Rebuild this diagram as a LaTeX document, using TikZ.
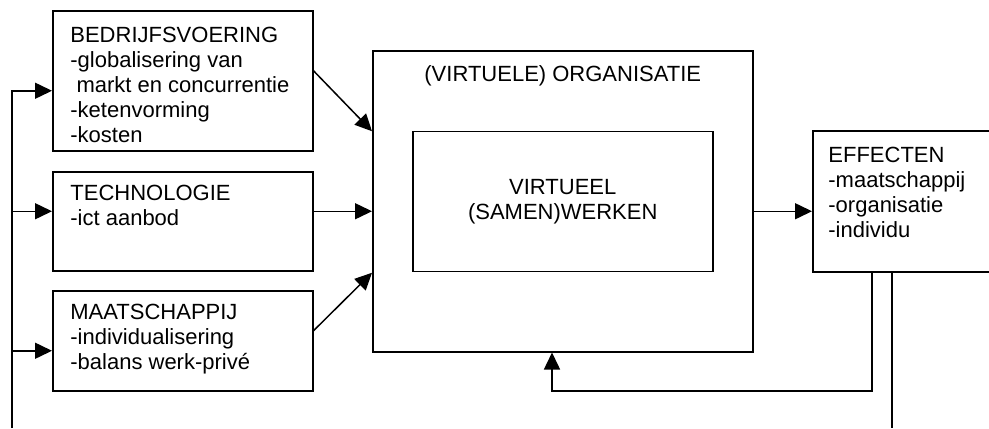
\documentclass[tikz,border=0pt]{standalone}
\usepackage{fontspec}
\setmainfont{Liberation Sans}
\usepackage{tikz}
\usetikzlibrary{positioning}
\usetikzlibrary{arrows.meta}
\tikzset{box/.style={draw,line width=0.75pt,anchor=north west,inner sep=0pt}}
\tikzset{boxtext/.style={anchor=north west,inner sep=0pt,align=left,font=\fontsize{11pt}{12.5pt}\selectfont}}
\tikzset{arr/.style={line width=0.75pt,-{Triangle[length=8.5pt,width=8pt]}}}
\tikzset{wire/.style={line width=0.75pt}}

\begin{document}
\begin{tikzpicture}[x=0.5pt,y=-0.5pt]
\useasboundingbox (0,0) rectangle (989,428);
% the three driving factors
\node[box,minimum width=130pt,minimum height=70pt] (bedr) at (52,10) {};
\node[box,minimum width=130pt,minimum height=49.5pt] (techn) at (52,171) {};
\node[box,minimum width=130pt,minimum height=50pt] (maatsch) at (52,290) {};
\node[boxtext,below right=8.5pt and 9pt of bedr.north west] (bedr-txt) {BEDRIJFSVOERING\\-globalisering van\\\hspace*{.28em}markt en concurrentie\\-ketenvorming\\-kosten};
\node[boxtext,below right=6.75pt and 9pt of techn.north west] (techn-txt) {TECHNOLOGIE\\-ict aanbod};
\node[boxtext,below right=6.75pt and 9pt of maatsch.north west] (maatsch-txt) {MAATSCHAPPIJ\\-individualisering\\-balans werk-priv\'e};
% organisation with virtual work inside
\node[box,minimum width=190pt,minimum height=150.5pt] (org) at (372,50) {};
\node[boxtext,anchor=north,below=7.5pt of org.north] (org-txt) {(VIRTUELE) ORGANISATIE};
\node[box,anchor=center,align=center,minimum width=150pt,minimum height=70pt,font=\fontsize{11pt}{12.5pt}\selectfont] (werken) at (org.center) {VIRTUEEL\\(SAMEN)WERKEN};
% effects, runs off the right edge
\node[box,minimum width=94pt,minimum height=70.5pt] (eff) at (812,130) {};
\node[boxtext,below right=8.5pt and 8pt of eff.north west] (eff-txt) {EFFECTEN\\-maatschappij\\-organisatie\\-individu};

\coordinate (bus) at (12,428);
\coordinate (bedr-in) at ([yshift=-5pt]bedr.west);
\coordinate (techn-in) at ([yshift=5pt]techn.west);
\coordinate (maatsch-in) at ([yshift=-5pt]maatsch.west);
\coordinate (back) at (552,391);
\coordinate (out) at (892,428);

% feed line on the left
\draw[arr] (bus) |- (bedr-in);
\draw[arr] (techn-in -| bus) -- (techn-in);
\draw[arr] (maatsch-in -| bus) -- (maatsch-in);
% into the organisation
\draw[arr] ([yshift=5pt]bedr.east) -- ([yshift=35pt]org.west);
\draw[arr] (techn-in -| techn.east) -- (techn-in -| org.west);
\draw[arr] ([yshift=5pt]maatsch.east) -- ([yshift=-35.75pt]org.west);
\draw[arr] (techn-in -| org.east) -- (techn-in -| eff.west);
% feedback and output
\draw[arr] ([xshift=30pt]eff.south west) |- (back) -- (back |- org.south);
\draw[wire] (out |- eff.south) -- (out);
\end{tikzpicture}
\end{document}
